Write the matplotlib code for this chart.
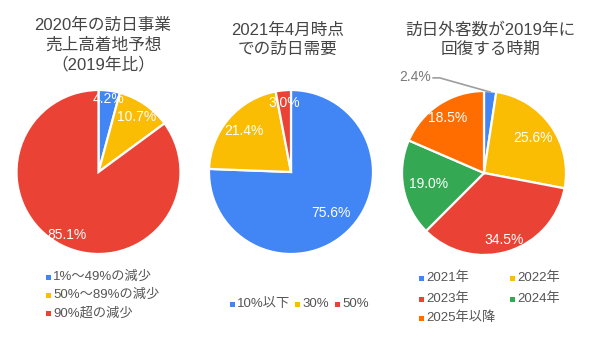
import numpy as np
import matplotlib.pyplot as plt
from matplotlib.patches import Rectangle

plt.rcParams['font.family'] = ['Liberation Sans', 'Noto Sans CJK JP', 'DejaVu Sans']

# data
titles = ['2020年の訪日事業\n売上高着地予想\n（2019年比）',
          '2021年4月時点\nでの訪日需要',
          '訪日外客数が2019年に\n回復する時期']

labels1 = ['1%～49%の減少', '50%～89%の減少', '90%超の減少']
values1 = [4.2, 10.7, 85.1]

labels2 = ['10%以下', '30%', '50%']
values2 = [75.6, 21.4, 3.0]

labels3 = ['2021年', '2022年', '2023年', '2024年', '2025年以降']
values3 = [2.4, 25.6, 34.5, 19.0, 18.5]

blue, yellow, red, green, orange = '#4285F4', '#FBBC04', '#EA4335', '#34A853', '#FF6D01'
colors1 = [blue, yellow, red]
colors2 = [blue, yellow, red]
colors3 = [blue, yellow, red, green, orange]

W, H = 600, 338
fig = plt.figure(figsize=(W / 100, H / 100), dpi=100)

R = 82


def pie_axes(cx, cy):
    return fig.add_axes([(cx - R) / W, (H - cy - R) / H, 2 * R / W, 2 * R / H])


def draw_pie(ax, values, colors, dists, show):
    wedges, _ = ax.pie(values, colors=colors, startangle=90, counterclock=False,
                       radius=1, wedgeprops=dict(edgecolor='white', linewidth=1.6))
    ax.set_xlim(-1, 1)
    ax.set_ylim(-1, 1)
    ax.set_aspect('equal')
    ax.axis('off')
    for w, v, d, s in zip(wedges, values, dists, show):
        if not s:
            continue
        a = np.deg2rad((w.theta1 + w.theta2) / 2)
        ax.text(d * np.cos(a), d * np.sin(a), f'{v:.1f}%', color='white',
                fontsize=10, ha='center', va='center')
    return wedges


ax1 = pie_axes(98.5, 172)
draw_pie(ax1, values1, colors1, [0.9, 0.82, 0.86], [True] * 3)

ax2 = pie_axes(291, 172)
draw_pie(ax2, values2, colors2, [0.7, 0.76, 0.84], [True] * 3)

ax3 = pie_axes(484, 173)
w3 = draw_pie(ax3, values3, colors3, [0, 0.73, 0.85, 0.69, 0.8],
              [False, True, True, True, True])

# outside label for the small slice
a = np.deg2rad((w3[0].theta1 + w3[0].theta2) / 2)
ax3.plot([np.cos(a) * 0.99, -0.54, -0.62], [np.sin(a) * 0.99, 1.16, 1.16],
         color='#9e9e9e', lw=1.2, clip_on=False)
ax3.text(-0.65, 1.165, f'{values3[0]:.1f}%', color='#7a7a7a', fontsize=10,
         ha='right', va='center', clip_on=False)

# titles
tcol = '#454545'
fig.text(103 / W, 1 - 45 / H, titles[0], ha='center', va='center', fontsize=12,
         color=tcol, linespacing=1.3, multialignment='center')
fig.text(288 / W, 1 - 40 / H, titles[1], ha='center', va='center', fontsize=12,
         color=tcol, linespacing=1.35, multialignment='center')
fig.text(490 / W, 1 - 39.5 / H, titles[2], ha='center', va='center', fontsize=12,
         color=tcol, linespacing=1.3, multialignment='center')

# legends
lcol = '#555555'


def legend_item(x, y, text, color):
    fig.add_artist(Rectangle(((x - 2.5) / W, 1 - (y + 2.5) / H), 5 / W, 5 / H,
                             transform=fig.transFigure, color=color, lw=0))
    fig.text((x + 5) / W, 1 - y / H, text, ha='left', va='center',
             fontsize=9.5, color=lcol)


for lab, c, y in zip(labels1, colors1, [277, 295, 313]):
    legend_item(48, y, lab, c)

for lab, c, x in zip(labels2, colors2, [232, 297, 337]):
    legend_item(x, 304, lab, c)

pos3 = [(421, 278), (512, 278), (421, 299), (512, 299), (421, 318)]
for lab, c, (x, y) in zip(labels3, colors3, pos3):
    legend_item(x, y, lab, c)

fig.savefig('out.png', dpi=100, facecolor='white')
